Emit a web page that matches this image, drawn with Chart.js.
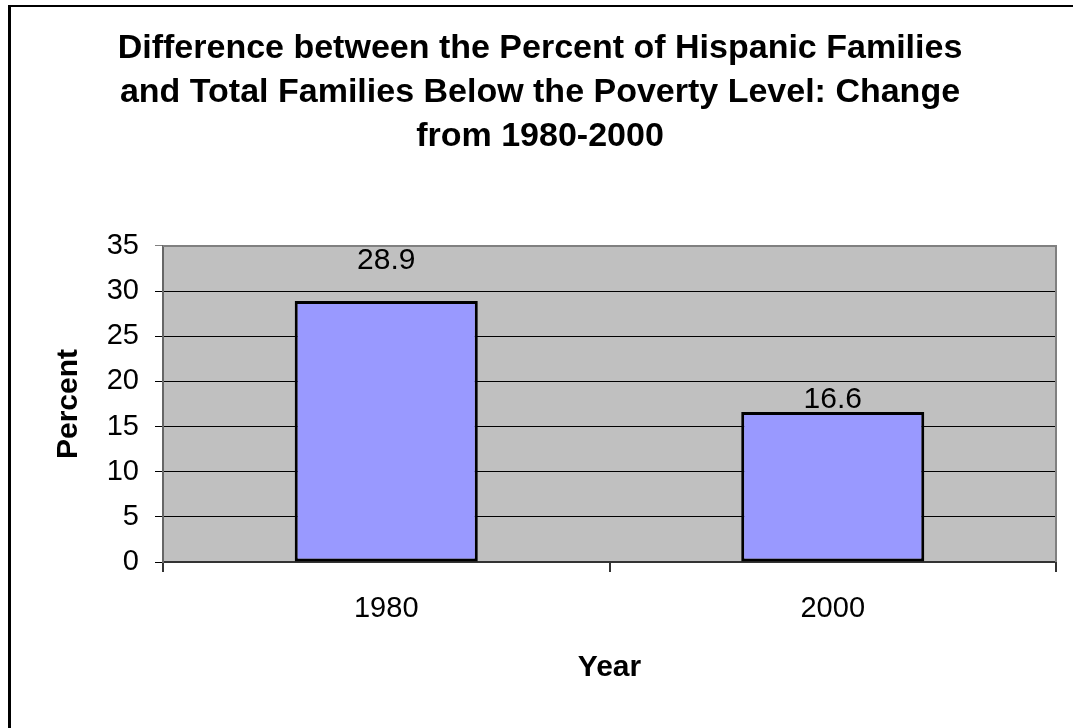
<!DOCTYPE html>
<html>
<head>
<meta charset="utf-8">
<script src="https://cdn.jsdelivr.net/npm/chart.js@4/dist/chart.umd.min.js"></script>
<style>
  html, body { margin: 0; padding: 0; background: #fff; }
  canvas { display: block; }
</style>
</head>
<body>
<canvas id="chart" width="1073" height="728"></canvas>
<script>
const years = ["1980", "2000"];
const percentDiff = [28.9, 16.6];
const yTicks = [0, 5, 10, 15, 20, 25, 30, 35];
const titleLines = [
  "Difference between the Percent of Hispanic Families",
  "and Total Families Below the Poverty Level: Change",
  "from 1980-2000"
];

const FONT = "'Liberation Sans', Arial, sans-serif";

// page background, frame line on top/left, grey plot area with its border
const backdrop = {
  id: "backdrop",
  beforeDraw(chart) {
    const a = chart.chartArea;
    const c = chart.ctx;
    c.save();
    c.fillStyle = "#fff";
    c.fillRect(0, 0, chart.width, chart.height);
    c.fillStyle = "#000";
    c.fillRect(8, 5, chart.width - 8, 2);
    c.fillRect(8, 5, 3, chart.height - 5);
    c.fillStyle = "#C0C0C0";
    c.fillRect(a.left, a.top, a.right - a.left, a.bottom - a.top);
    c.restore();
  },
  beforeDatasetsDraw(chart) {
    const a = chart.chartArea;
    const c = chart.ctx;
    c.save();
    c.strokeStyle = "#808080";
    c.lineWidth = 2;
    c.beginPath();
    c.moveTo(a.left, a.top);
    c.lineTo(a.right, a.top);
    c.lineTo(a.right, a.bottom);
    c.stroke();
    c.restore();
  }
};

// value labels above each bar
const valueLabels = {
  id: "valueLabels",
  afterDatasetsDraw(chart, args, opts) {
    const c = chart.ctx;
    const meta = chart.getDatasetMeta(0);
    c.save();
    c.font = "30px " + FONT;
    c.fillStyle = "#000";
    c.textAlign = "center";
    c.textBaseline = "middle";
    meta.data.forEach((bar, i) => {
      const lift = opts.lift[i] || 30;
      c.fillText(percentDiff[i].toFixed(1), bar.x, bar.y - lift);
    });
    c.restore();
  }
};

new Chart(document.getElementById("chart"), {
  type: "bar",
  data: {
    labels: years,
    datasets: [{
      data: percentDiff,
      backgroundColor: "#9999FF",
      borderColor: "#000",
      borderWidth: 3,
      borderSkipped: false,
      categoryPercentage: 1,
      barPercentage: 0.41
    }]
  },
  options: {
    responsive: false,
    animation: false,
    layout: { padding: { left: 17, right: 10, top: 0, bottom: 0 } },
    plugins: {
      legend: { display: false },
      tooltip: { enabled: false },
      title: {
        display: true,
        text: titleLines,
        color: "#000",
        font: { family: FONT, size: 34, weight: "bold", lineHeight: 1.294 },
        padding: { top: 27, bottom: 87 }
      },
      valueLabels: { lift: [40, 12] }
    },
    scales: {
      x: {
        afterFit(scale) { scale.height = 166; },
        grid: {
          offset: true,
          drawOnChartArea: false,
          drawTicks: true,
          tickLength: 10,
          color: "#333",
          lineWidth: 2
        },
        border: { color: "#333", width: 2 },
        ticks: {
          color: "#000",
          padding: 20,
          font: { family: FONT, size: 29 }
        },
        title: {
          display: true,
          text: "Year",
          color: "#000",
          font: { family: FONT, size: 30, weight: "bold" },
          padding: { top: 0, bottom: 42 }
        }
      },
      y: {
        min: 0,
        max: 35,
        afterFit(scale) { scale.width = 146; },
        afterBuildTicks(scale) {
          scale.ticks = yTicks.map(v => ({ value: v }));
        },
        grid: {
          color: ctx => (ctx.tick && ctx.tick.value === 35 ? "#808080" : "#000"),
          lineWidth: 1,
          drawTicks: true,
          tickLength: 8
        },
        border: { color: "#666", width: 2 },
        ticks: {
          color: "#000",
          padding: 16,
          font: { family: FONT, size: 29 }
        },
        title: {
          display: true,
          text: "Percent",
          color: "#000",
          font: { family: FONT, size: 30, weight: "bold" },
          padding: { top: 34, bottom: 0 }
        }
      },
      // empty strip on the right so the plot ends short of the frame
      gutter: {
        type: "linear",
        position: "right",
        afterFit(scale) { scale.width = 7; },
        ticks: { display: false },
        grid: { display: false },
        border: { display: false }
      }
    }
  },
  plugins: [backdrop, valueLabels]
});
</script>
</body>
</html>
